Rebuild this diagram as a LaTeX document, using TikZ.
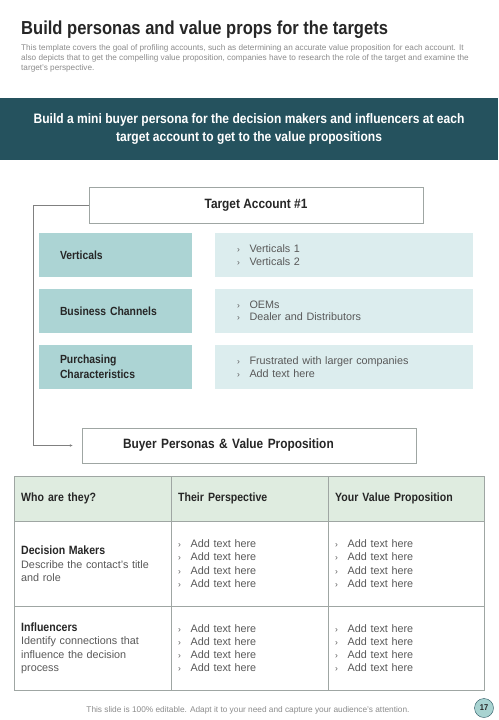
\documentclass[tikz,border=0pt]{standalone}
\usepackage{fontspec}
\setmainfont{Liberation Sans}[BoldFeatures={FakeStretch=0.88}]
\usepackage{xcolor}
\usepackage{tikz}
\usetikzlibrary{arrows.meta,calc,positioning}
\definecolor{titlegray}{HTML}{262626}
\definecolor{textgray}{HTML}{595959}
\definecolor{lightgray}{HTML}{8C8C8C}
\definecolor{bannerteal}{HTML}{25525E}
\definecolor{catteal}{HTML}{ACD4D4}
\definecolor{datateal}{HTML}{DCEDEE}
\definecolor{headgreen}{HTML}{DFECE0}
\definecolor{rulegray}{HTML}{9FA6A3}
\definecolor{circleteal}{HTML}{A8D3D1}

\newcommand{\bul}[1]{\makebox[12.5pt][l]{\fontsize{8.5}{8}\selectfont ›}#1}

\begin{document}
\begin{tikzpicture}[x=1pt, y=-1pt, >=Latex, font=\fontsize{10.8}{13.2}\selectfont,
  catbox/.style={fill=catteal, minimum width=153pt, minimum height=44pt, inner sep=0pt,
    text width=111pt, align=left, font=\bfseries\fontsize{11.8}{15}\selectfont, text=titlegray},
  databox/.style={fill=datateal, minimum width=258pt, minimum height=44pt, inner sep=0pt,
    text width=214pt, align=left, text=textgray, font=\fontsize{10.8}{12.5}\selectfont},
  cell/.style={draw=rulegray, anchor=north west, minimum width=157pt, inner xsep=7pt,
    inner ysep=0pt, text width=143pt, align=left, text=textgray},
  headcell/.style={cell, fill=headgreen, minimum height=45pt, text=titlegray,
    font=\bfseries\fontsize{12}{14}\selectfont},
  outline/.style={draw=rulegray, fill=white, inner sep=0pt, text=titlegray,
    font=\bfseries\fontsize{13.5}{15}\selectfont}]

  \useasboundingbox[fill=white] (0,0) rectangle (498,720);

  % ================= HEADING =================
  \node[anchor=base west, inner sep=0pt, text=titlegray, font=\bfseries\fontsize{18.8}{22}\selectfont]
    (title) at (21,34) {Build personas and value props for the targets};
  \node[anchor=north west, inner sep=0pt, align=left, text=lightgray, font=\fontsize{8.2}{10}\selectfont]
    (intro) at (21,44) {This template covers the goal of profiling accounts, such as determining an accurate value proposition for each account. It\\
    also depicts that to get the compelling value proposition, companies have to research the role of the target and examine the\\
    target's perspective.};

  % Banner
  \node[fill=bannerteal, minimum width=498pt, minimum height=62pt, inner sep=0pt, align=center,
    text=white, font=\bfseries\fontsize{13.7}{18}\selectfont]
    (banner) at (249,129) {Build a mini buyer persona for the decision makers and influencers at each\\
    target account to get to the value propositions};

  % ================= TARGET ACCOUNT =================
  \node[outline, minimum width=334pt, minimum height=36pt] (target) at (256,205) {Target Account \#1};

  \node[catbox] (vert) at (115.5,255) {Verticals};
  \node[catbox] (chan) at (115.5,311) {Business Channels};
  \node[catbox] (purch) at (115.5,367) {Purchasing\\Characteristics};

  \node[databox] (vertd) at (344,255) {\bul{Verticals 1}\\\bul{Verticals 2}};
  \node[databox] (chand) at (344,311) {\bul{OEMs}\\\bul{Dealer and Distributors}};
  \node[databox] (purchd) at (344,367) {\bul{Frustrated with larger companies}\\\bul{Add text here}};

  \node[outline, minimum width=334pt, minimum height=35pt, text width=252pt, align=left, inner xsep=41pt]
    (buyer) at (249,445.5) {Buyer Personas \& Value Proposition};

  % Connector
  \draw[gray, thin, arrows={-Latex[length=3pt, width=2.5pt]}]
    (target.west) -- ([xshift=-56pt]target.west) |- ([xshift=-9pt]buyer.west);

  % ================= TABLE =================
  \node[headcell] (who) at (14,476) {Who are they?};
  \node[headcell] (persp) at (171,476) {Their Perspective};
  \node[headcell, minimum width=156pt, text width=142pt] (value) at (328,476) {Your Value Proposition};

  \node[cell, minimum height=85pt] (dm) at (14,521)
    {{\bfseries\fontsize{12}{14}\selectfont\color{titlegray}Decision Makers}\\
    {\fontsize{10.8}{13.5}\selectfont Describe the contact's title\\and role}};
  \node[cell, minimum height=85pt] (dmp) at (171,521)
    {\bul{Add text here}\\\bul{Add text here}\\\bul{Add text here}\\\bul{Add text here}};
  \node[cell, minimum height=85pt, minimum width=156pt, text width=142pt] (dmv) at (328,521)
    {\bul{Add text here}\\\bul{Add text here}\\\bul{Add text here}\\\bul{Add text here}};

  \node[cell, minimum height=84pt] (inf) at (14,606)
    {{\bfseries\fontsize{12}{14}\selectfont\color{titlegray}Influencers}\\
    {\fontsize{10.8}{13.2}\selectfont Identify connections that\\influence the decision\\process}};
  \node[cell, minimum height=84pt] (infp) at (171,606)
    {\bul{Add text here}\\\bul{Add text here}\\\bul{Add text here}\\\bul{Add text here}};
  \node[cell, minimum height=84pt, minimum width=156pt, text width=142pt] (infv) at (328,606)
    {\bul{Add text here}\\\bul{Add text here}\\\bul{Add text here}\\\bul{Add text here}};

  % ================= FOOTER =================
  \node[text=lightgray, font=\fontsize{8.3}{9}\selectfont, inner sep=0pt]
    (footer) at (248,710) {This slide is 100\% editable. Adapt it to your need and capture your audience's attention.};
  \node[circle, draw=bannerteal, fill=circleteal, minimum size=19pt, inner sep=0pt,
    font=\bfseries\fontsize{8.5}{9}\selectfont, text=titlegray] (page) at (484,708) {17};

\end{tikzpicture}
\end{document}
